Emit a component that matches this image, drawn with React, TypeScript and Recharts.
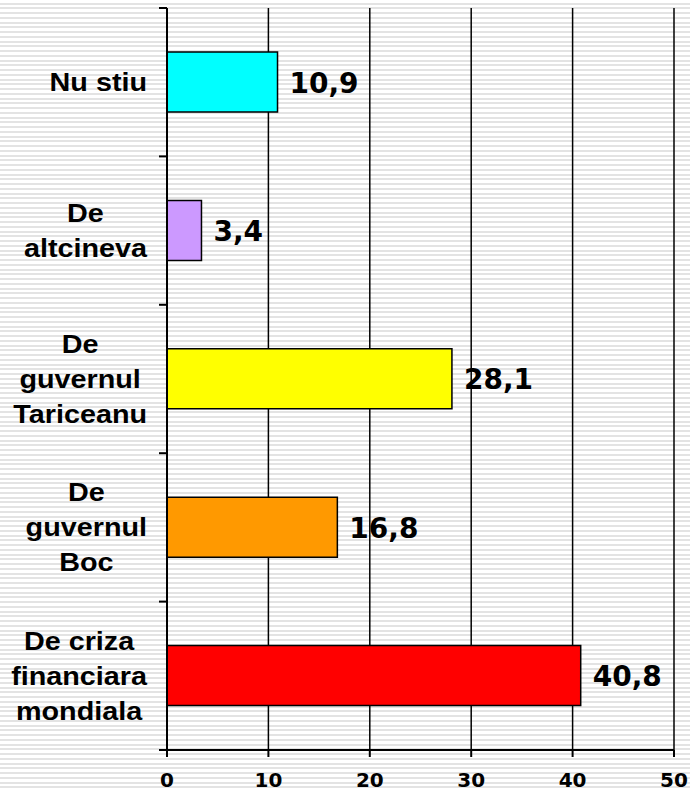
import { BarChart, Bar, XAxis, YAxis, CartesianGrid, Cell, LabelList } from "recharts";

const categories = ["Nu stiu", "De\naltcineva", "De\nguvernul\nTariceanu", "De\nguvernul\nBoc", "De criza\nfinanciara\nmondiala"];
const values = [10.9, 3.4, 28.1, 16.8, 40.8];
const colors = ["#00FFFF", "#CC99FF", "#FFFF00", "#FF9900", "#FF0000"];
const xTicks = [0, 10, 20, 30, 40, 50];

const data = categories.map((name, i) => ({ name, value: values[i] }));

const catFont = "bold 25px 'Liberation Sans', Arial, sans-serif";
const stretch = 1.15;
const halfBand = (750 - 8) / categories.length / 2;

let ctx: CanvasRenderingContext2D | null = null;
const measure = (s: string) => {
  if (!ctx) ctx = document.createElement("canvas").getContext("2d");
  if (!ctx) return s.length * 14;
  ctx.font = catFont;
  return ctx.measureText(s).width * stretch;
};

const CategoryTick = (props: any) => {
  const { x, y, payload, index } = props;
  const lines: string[] = String(payload.value).split("\n");
  const maxW = Math.max(...lines.map(measure));
  const cx = 147 - maxW / 2;
  const n = lines.length;
  const ax = x + (props.tickMargin ?? 2);
  return (
    <g>
      {/* little marks on the band boundaries, like the original */}
      <line x1={159} x2={167} y1={y - halfBand} y2={y - halfBand} stroke="#000" strokeWidth={2} />
      {index === categories.length - 1 && (
        <line x1={159} x2={167} y1={y + halfBand} y2={y + halfBand} stroke="#000" strokeWidth={2} />
      )}
      {lines.map((line, i) => (
        <g key={i} transform={`translate(${cx}, ${y + (i - (n - 1) / 2) * 35 + 9}) scale(${stretch}, 1)`}>
          <text x={0} y={0} textAnchor="middle" fill="#000" style={{ font: catFont }} data-ax={ax}>
            {line}
          </text>
        </g>
      ))}
    </g>
  );
};

const ValueLabel = (props: any) => {
  const { x, y, width, height, value } = props;
  return (
    <text
      x={x + width + 12}
      y={y + height / 2 + 10.5}
      fill="#000"
      fontFamily="'DejaVu Sans', Verdana, sans-serif"
      fontWeight="bold"
      fontSize={28}
    >
      {String(value).replace(".", ",")}
    </text>
  );
};

export default function App() {
  return (
    <div
      style={{
        position: "absolute",
        left: 0,
        top: 0,
        width: 690,
        height: 791,
        background:
          "repeating-linear-gradient(to bottom, #ffffff 0px, #ffffff 2.7px, #e3e3e3 2.7px, #e3e3e3 4.75px)",
      }}
    >
      <BarChart
        width={690}
        height={791}
        data={data}
        layout="vertical"
        margin={{ top: 8, right: 16, bottom: 0, left: 0 }}
        barSize={60}
      >
        <CartesianGrid vertical horizontal={false} stroke="#000" strokeWidth={1.5} />
        <XAxis
          type="number"
          domain={[0, 50]}
          ticks={xTicks}
          interval={0}
          height={41}
          stroke="#000"
          strokeWidth={2}
          tickSize={7}
          tickMargin={16}
          tick={{ fill: "#000", fontFamily: "'DejaVu Sans', Verdana, sans-serif", fontWeight: "bold", fontSize: 20 }}
        />
        <YAxis
          type="category"
          dataKey="name"
          width={167}
          stroke="#000"
          strokeWidth={2}
          tickLine={false}
          interval={0}
          tick={<CategoryTick />}
        />
        <Bar dataKey="value" stroke="#000" strokeWidth={1.5} isAnimationActive={false}>
          {data.map((d, i) => (
            <Cell key={d.name} fill={colors[i]} />
          ))}
          <LabelList dataKey="value" content={<ValueLabel />} />
        </Bar>
      </BarChart>
    </div>
  );
}
